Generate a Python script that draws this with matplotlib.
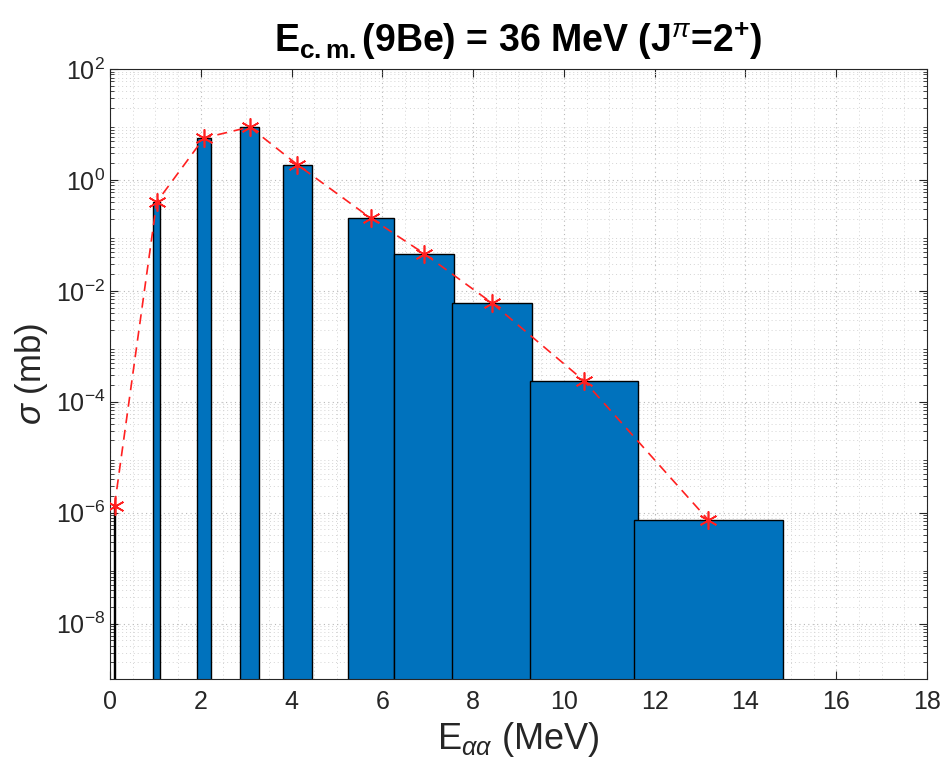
import numpy as np
import matplotlib
matplotlib.use("Agg")
import matplotlib.pyplot as plt
from matplotlib.ticker import LogLocator, MultipleLocator, NullFormatter

# E_aa bin centres (MeV), bin widths (MeV) and cross sections (mb)
e_centre = [0.10, 1.03, 2.07, 3.08, 4.13, 5.75, 6.92, 8.42, 10.44, 13.18]
e_width = [0.03, 0.15, 0.29, 0.42, 0.65, 1.03, 1.32, 1.75, 2.37, 3.29]
sigma = [1.33e-6, 0.40, 5.7, 9.0, 1.88, 0.203, 0.047, 0.0060, 2.4e-4, 7.4e-7]

plt.rcParams["font.family"] = ["Liberation Sans", "DejaVu Sans"]
plt.rcParams["mathtext.fontset"] = "custom"
plt.rcParams["mathtext.rm"] = "Liberation Sans"
plt.rcParams["mathtext.it"] = "Liberation Sans:italic"
plt.rcParams["mathtext.bf"] = "Liberation Sans:bold"

fig = plt.figure(figsize=(9.44, 7.80), dpi=100)
ax = fig.add_axes([0.1165, 0.1295, 0.8655, 0.782])
ax.set_yscale("log")

# bars, centred on each point
ax.bar(e_centre, sigma, width=e_width, bottom=1e-12, color="#0072BD",
       edgecolor="black", linewidth=1.0, zorder=2)

# dashed line through bar tops, matlab-style '*' marker
ax.plot(e_centre, sigma, color="#ff2020", linewidth=1.2, dashes=(6, 4),
        marker=(6, 2, 0), markersize=13, markeredgewidth=1.2, zorder=3)

ax.set_xlim(0, 18)
ax.set_ylim(1e-9, 1e2)
ax.xaxis.set_major_locator(MultipleLocator(2))
ax.xaxis.set_minor_locator(MultipleLocator(0.5))
ax.set_yticks([1e-8, 1e-6, 1e-4, 1e-2, 1e0, 1e2])
ax.yaxis.set_minor_locator(LogLocator(base=10, subs=np.arange(2, 10), numticks=30))
ax.yaxis.set_minor_formatter(NullFormatter())

ax.grid(True, which="major", linestyle=(0, (1, 3)), color="#b8b8b8", linewidth=0.8, zorder=0)
ax.grid(True, which="minor", linestyle=(0, (1, 3)), color="#d4d4d4", linewidth=0.7, zorder=0)
ax.set_axisbelow(True)

ax.tick_params(which="both", direction="in", top=True, right=True,
               labelsize=18, color="#262626", labelcolor="#262626")
ax.tick_params(which="major", length=6)
ax.tick_params(which="minor", length=3)
ax.tick_params(axis="x", which="minor", length=0)
ax.tick_params(axis="x", pad=8)
for sp in ax.spines.values():
    sp.set_color("#262626")
    sp.set_linewidth(0.8)

ax.set_xlabel(r"E$_{\alpha\alpha}$ (MeV)", fontsize=26, color="#262626")
ax.set_ylabel(r"$\sigma$ (mb)", fontsize=25, color="#262626", labelpad=4)
ax.set_title(r"E$_{\mathbf{c.m.}}$(9Be) = 36 MeV (J$^{\pi}$=2$^{\mathbf{+}}$)",
             fontsize=27, fontweight="bold", pad=12)

fig.savefig("out.png", dpi=100)
